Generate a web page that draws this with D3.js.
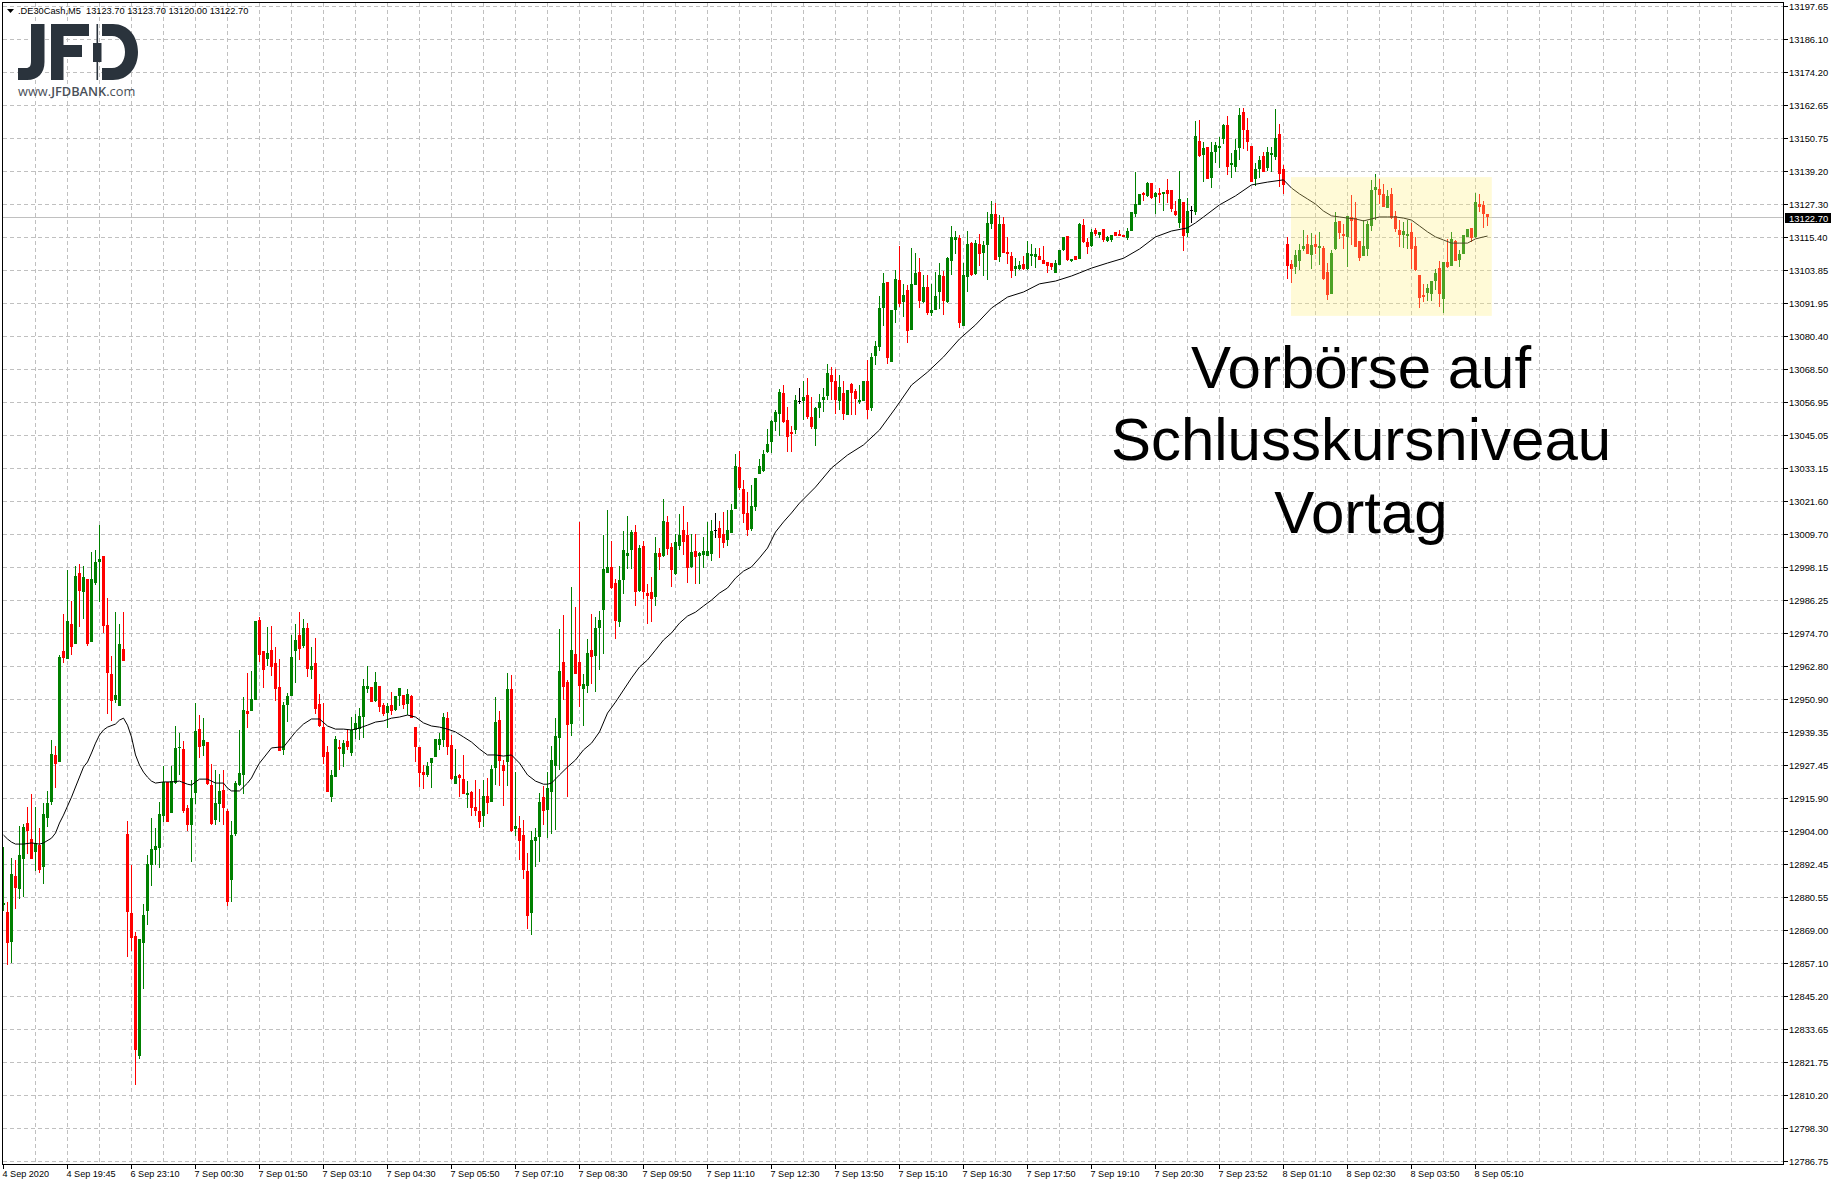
<!DOCTYPE html>
<html>
<head>
<meta charset="utf-8">
<script src="https://cdn.jsdelivr.net/npm/d3@7"></script>
<style>
html,body{margin:0;padding:0;background:#fff;overflow:hidden}
svg{display:block}
text{font-family:"Liberation Sans",Arial,sans-serif}
</style>
</head>
<body>
<div id="chart"></div>
<script>
const priceTicks=["13197.65","13186.10","13174.20","13162.65","13150.75","13139.20","13127.30","13115.40","13103.85","13091.95","13080.40","13068.50","13056.95","13045.05","13033.15","13021.60","13009.70","12998.15","12986.25","12974.70","12962.80","12950.90","12939.35","12927.45","12915.90","12904.00","12892.45","12880.55","12869.00","12857.10","12845.20","12833.65","12821.75","12810.20","12798.30","12786.75"];
const timeTicks=["4 Sep 2020","4 Sep 19:45","6 Sep 23:10","7 Sep 00:30","7 Sep 01:50","7 Sep 03:10","7 Sep 04:30","7 Sep 05:50","7 Sep 07:10","7 Sep 08:30","7 Sep 09:50","7 Sep 11:10","7 Sep 12:30","7 Sep 13:50","7 Sep 15:10","7 Sep 16:30","7 Sep 17:50","7 Sep 19:10","7 Sep 20:30","7 Sep 23:52","8 Sep 01:10","8 Sep 02:30","8 Sep 03:50","8 Sep 05:10"];
const headerText=".DE30Cash,M5  13123.70 13123.70 13120.00 13122.70";
const lastPrice=13122.70;
const noteLines=["Vorbörse auf","Schlusskursniveau","Vortag"];
const highlightBars=[322,372.2];
const highlightPrices=[13136.8,13087.4];

const open=[
12877.8,12875.3,12864.6,12888.1,12883.5,12894.2,12907.0,12901.3,12896.7,12899.1,
12891.3,12908.8,12914.5,12931.2,12928.7,12968.2,12965.3,12977.8,12970.7,12995.9,
12989.2,12993.8,12971.4,12992.4,13000.0,13002.0,12977.4,12960.0,12950.7,12948.6,
12968.9,12903.1,12874.9,12866.8,12824.0,12864.3,12875.7,12892.0,12897.4,12898.1,
12909.5,12921.6,12910.5,12921.2,12933.7,12933.3,12912.3,12906.3,12917.6,12940.4,
12934.4,12935.8,12920.5,12908.0,12913.7,12918.7,12911.2,12886.7,12903.1,12920.5,
12924.1,12946.8,12946.8,12950.7,12979.2,12968.2,12965.3,12968.5,12963.9,12955.4,
12933.0,12949.0,12952.2,12968.2,12973.9,12970.0,12976.4,12961.4,12963.9,12949.3,
12941.1,12932.2,12916.2,12923.3,12934.0,12931.5,12936.1,12931.9,12940.1,12940.4,
12944.7,12954.7,12955.4,12950.4,12955.7,12949.0,12946.1,12949.0,12947.2,12952.2,
12952.5,12949.3,12952.2,12941.1,12934.0,12925.1,12924.1,12928.3,12930.5,12934.7,
12936.5,12944.3,12934.7,12920.8,12924.1,12922.6,12917.0,12918.0,12912.7,12911.2,
12909.5,12916.6,12914.5,12926.5,12943.6,12927.6,12928.7,12954.7,12904.8,12905.2,
12902.7,12889.9,12874.9,12900.6,12902.0,12916.2,12911.6,12918.0,12927.3,12937.2,
12964.3,12957.1,12942.2,12967.1,12964.3,12954.7,12955.7,12968.5,12966.4,12976.4,
12982.8,12995.9,12998.1,12992.4,12978.5,12993.4,13002.0,13004.1,13010.5,12989.5,
13005.5,12988.8,12989.2,12987.4,13003.0,13002.0,13014.1,13005.2,12995.6,13005.5,
13011.2,13009.4,12998.1,13003.8,13002.0,13002.3,13002.0,13002.7,13011.2,13011.9,
13009.8,13007.7,13010.2,13018.7,13033.6,13025.8,13017.3,13011.6,13019.4,13031.1,
13032.2,13039.0,13042.5,13049.6,13052.5,13060.0,13050.4,13046.1,13046.8,13057.1,
13057.1,13059.3,13051.4,13047.2,13054.6,13057.5,13058.9,13066.4,13064.2,13057.1,
13060.0,13052.1,13063.2,13060.7,13056.8,13057.1,13064.2,13054.6,13073.1,13076.3,
13090.2,13099.5,13071.0,13089.5,13100.2,13092.3,13096.6,13082.4,13098.4,13103.0,
13092.3,13097.7,13088.4,13089.5,13095.9,13101.6,13092.3,13106.9,13114.4,13115.1,
13083.8,13101.2,13113.3,13102.3,13113.0,13109.8,13112.6,13120.1,13123.7,13108.4,
13120.1,13110.1,13108.7,13104.1,13104.1,13105.9,13104.1,13108.7,13108.4,13108.7,
13107.3,13106.6,13106.2,13102.7,13105.5,13110.9,13115.8,13106.9,13108.7,13107.6,
13119.7,13113.7,13112.3,13118.0,13116.2,13118.3,13114.0,13114.4,13117.3,13116.5,
13116.2,13115.1,13117.6,13123.7,13126.9,13131.1,13130.1,13134.7,13129.7,13131.1,
13130.8,13132.2,13132.2,13124.7,13120.5,13127.9,13116.9,13125.1,13124.4,13149.6,
13144.7,13147.5,13136.5,13145.7,13147.1,13150.3,13155.3,13141.1,13140.4,13147.1,
13159.9,13153.5,13147.9,13136.1,13139.7,13144.3,13140.0,13144.7,13143.9,13152.1,
13139.7,13113.0,13105.9,13104.8,13106.9,13111.2,13113.0,13109.1,13113.0,13111.6,
13111.6,13103.0,13095.2,13111.2,13121.2,13116.5,13115.5,13122.6,13122.2,13114.0,
13108.7,13111.2,13119.4,13132.2,13132.6,13130.8,13125.8,13130.8,13123.0,13118.0,
13116.2,13115.8,13117.3,13112.3,13102.0,13094.8,13095.6,13095.2,13099.8,13104.4,
13093.4,13106.6,13105.2,13114.0,13107.3,13109.4,13115.5,13118.7,13115.5,13127.2,
13126.9,13123.7];
const high=[
12898.5,12878.9,12894.6,12893.8,12905.9,12906.6,12912.7,12917.3,12912.7,12905.2,
12914.1,12918.4,12936.5,12934.4,12966.8,12981.3,12997.0,12986.0,12998.4,12999.1,
12998.4,12993.8,13003.4,13004.1,13013.0,13002.0,12987.0,12966.4,12982.0,12977.8,
12982.0,12907.7,12892.0,12868.2,12865.7,12878.2,12895.6,12908.8,12905.2,12914.5,
12927.3,12921.6,12927.3,12941.5,12939.0,12936.1,12913.4,12922.3,12949.7,12945.4,
12944.3,12935.8,12928.0,12925.8,12924.4,12925.8,12912.0,12907.7,12921.9,12940.1,
12951.8,12960.3,12961.0,12978.8,12980.3,12968.2,12976.7,12977.1,12969.6,12965.3,
12950.0,12953.2,12973.9,12977.8,12982.0,12979.6,12978.1,12969.6,12972.8,12952.9,
12949.7,12934.4,12925.8,12937.9,12936.5,12936.5,12940.4,12944.7,12945.8,12947.9,
12958.2,12962.8,12955.4,12960.7,12955.7,12949.7,12949.7,12953.6,12952.2,12955.0,
12952.5,12954.7,12952.5,12941.1,12934.0,12927.6,12928.7,12930.1,12936.9,12939.0,
12946.1,12946.5,12938.3,12933.3,12924.4,12931.2,12921.9,12918.4,12922.3,12919.1,
12922.3,12923.0,12927.6,12951.8,12946.8,12929.4,12960.3,12959.6,12925.1,12909.5,
12908.0,12896.3,12904.1,12905.2,12917.6,12920.1,12925.1,12934.4,12944.3,12976.0,
12981.0,12957.9,12990.9,12983.8,13014.1,12960.0,12972.4,12981.3,12980.3,12982.4,
13009.4,13018.3,13007.3,12993.8,12998.4,13010.9,13016.2,13011.2,13013.0,13005.9,
13007.3,12992.0,12994.5,13008.7,13004.8,13022.3,13016.2,13006.6,13009.8,13016.9,
13019.8,13014.1,13009.8,13009.8,13003.4,13008.7,13014.1,13014.8,13017.3,13014.4,
13017.6,13018.3,13020.5,13038.3,13039.3,13029.0,13024.7,13027.2,13029.7,13036.5,
13039.7,13047.2,13050.4,13053.9,13061.4,13062.8,13055.0,13048.2,13059.3,13061.7,
13064.2,13065.3,13058.5,13055.0,13059.6,13061.7,13070.3,13069.2,13068.5,13066.4,
13064.2,13061.0,13063.5,13061.4,13062.8,13064.2,13071.7,13074.2,13078.5,13094.5,
13102.7,13099.5,13089.5,13103.7,13112.3,13098.8,13098.4,13111.6,13109.8,13108.0,
13102.0,13102.0,13098.8,13103.0,13106.2,13103.4,13108.4,13119.4,13117.6,13116.2,
13106.2,13117.6,13113.7,13114.4,13116.5,13114.0,13124.4,13128.3,13127.6,13123.3,
13122.6,13115.5,13110.1,13108.0,13106.9,13108.7,13114.0,13113.0,13111.6,13111.6,
13112.3,13106.6,13106.2,13107.3,13110.9,13115.5,13115.8,13107.6,13108.7,13120.5,
13121.9,13115.1,13118.3,13118.7,13117.3,13118.3,13115.8,13116.2,13117.3,13118.0,
13116.2,13118.7,13124.4,13138.6,13130.8,13131.5,13135.0,13134.7,13131.5,13132.9,
13131.5,13136.1,13132.2,13128.3,13139.0,13127.9,13129.4,13126.5,13156.8,13157.1,
13149.3,13147.5,13149.3,13149.3,13151.0,13155.7,13158.5,13145.4,13150.3,13161.4,
13161.4,13157.8,13147.9,13141.8,13144.3,13145.7,13147.5,13147.5,13161.0,13155.7,
13141.1,13115.5,13107.3,13110.9,13113.0,13118.0,13116.2,13116.9,13116.2,13117.3,
13112.3,13106.2,13110.9,13124.4,13121.2,13120.1,13123.0,13130.4,13127.9,13114.0,
13121.5,13121.2,13135.8,13137.9,13136.1,13134.3,13132.2,13132.9,13124.7,13121.5,
13120.8,13121.5,13120.5,13115.5,13102.0,13098.8,13098.8,13099.8,13104.1,13106.9,
13106.6,13114.8,13117.3,13114.4,13110.9,13116.2,13118.3,13118.7,13131.1,13130.8,
13128.3,13123.7];
const low=[
12875.7,12856.5,12857.2,12876.4,12879.9,12880.6,12895.9,12894.2,12889.9,12889.2,
12885.3,12905.6,12913.4,12919.4,12928.7,12963.9,12965.3,12966.8,12970.7,12976.7,
12979.6,12970.0,12971.4,12991.7,12985.6,12974.6,12945.8,12943.3,12949.7,12948.6,
12964.6,12859.3,12861.5,12813.8,12823.0,12847.9,12870.7,12884.6,12892.0,12891.0,
12907.3,12907.3,12910.5,12920.8,12924.1,12910.5,12904.1,12893.1,12913.7,12930.1,
12930.8,12920.5,12906.3,12906.3,12907.3,12906.3,12877.4,12878.9,12902.3,12920.1,
12917.3,12940.8,12946.8,12950.7,12964.3,12955.0,12962.8,12959.3,12950.4,12932.6,
12931.2,12942.9,12952.2,12956.8,12965.0,12969.2,12958.9,12958.2,12945.8,12941.1,
12928.0,12918.0,12914.5,12923.3,12925.8,12926.9,12933.0,12930.8,12936.9,12936.5,
12937.2,12953.2,12950.0,12950.0,12946.5,12945.0,12940.8,12945.4,12946.8,12948.6,
12947.5,12945.4,12944.3,12928.7,12919.8,12919.1,12923.3,12919.4,12930.5,12933.0,
12934.0,12931.2,12922.3,12920.8,12916.2,12917.3,12912.3,12909.5,12909.5,12905.2,
12905.6,12910.2,12914.5,12920.5,12920.1,12913.0,12920.1,12903.8,12902.3,12893.8,
12887.0,12869.3,12867.1,12891.3,12893.1,12906.3,12901.6,12903.0,12904.5,12925.8,
12950.7,12916.2,12937.9,12960.0,12948.2,12941.5,12953.2,12956.4,12953.6,12961.4,
12967.1,12995.9,12990.2,12972.4,12976.7,12988.5,12997.3,12997.3,12984.2,12989.2,
12986.7,12977.8,12978.5,12984.2,12997.0,13001.6,13002.3,12991.0,12995.2,13004.1,
13002.3,12992.4,12997.7,12992.0,12992.0,12997.7,13002.0,13000.2,13008.4,13001.3,
13004.8,13005.5,13010.2,13018.7,13025.5,13013.7,13009.1,13010.9,13018.0,13031.1,
13031.9,13038.6,13038.6,13046.4,13044.7,13049.3,13039.0,13039.0,13045.4,13056.1,
13050.4,13050.7,13047.2,13041.1,13051.1,13053.2,13057.5,13057.5,13052.5,13053.9,
13050.4,13052.1,13052.1,13052.1,13056.1,13057.1,13050.7,13053.6,13069.9,13074.9,
13083.8,13070.3,13071.0,13084.9,13090.6,13087.0,13077.8,13082.4,13098.4,13090.2,
13092.0,13087.7,13087.4,13089.5,13089.9,13087.7,13092.0,13102.0,13109.4,13083.1,
13083.8,13095.9,13101.6,13102.0,13105.2,13101.6,13100.2,13118.3,13107.3,13106.6,
13109.8,13105.9,13100.9,13101.6,13103.7,13103.7,13103.7,13105.2,13104.4,13107.3,
13105.9,13102.7,13103.7,13102.7,13105.5,13110.5,13106.9,13106.6,13107.3,13107.6,
13113.3,13109.4,13111.9,13115.8,13115.1,13113.7,13113.7,13113.7,13115.8,13115.8,
13115.5,13114.4,13117.6,13122.6,13126.9,13128.3,13129.7,13129.0,13123.7,13127.6,
13124.7,13127.6,13124.4,13123.0,13118.7,13110.5,13115.5,13120.5,13123.3,13143.9,
13135.0,13136.1,13132.9,13141.8,13140.0,13148.6,13137.5,13136.5,13138.6,13142.9,
13146.8,13146.1,13135.0,13133.6,13136.5,13138.6,13139.0,13138.6,13142.9,13133.3,
13130.8,13100.5,13099.1,13102.3,13103.7,13110.5,13109.4,13104.1,13109.4,13105.5,
13100.2,13093.1,13095.2,13110.9,13114.8,13111.2,13104.8,13112.6,13111.9,13106.9,
13108.7,13108.7,13117.6,13121.5,13127.2,13126.1,13125.8,13121.9,13117.3,13111.9,
13111.6,13111.2,13104.1,13103.4,13090.2,13092.3,13092.7,13092.7,13096.6,13090.6,
13088.4,13104.4,13105.2,13106.9,13104.8,13109.4,13115.5,13113.7,13115.1,13124.4,
13118.7,13119.4];
const close=[
12878.5,12864.3,12888.8,12883.8,12895.6,12905.6,12904.1,12894.2,12899.9,12890.3,
12910.2,12914.1,12931.5,12928.0,12966.0,12965.7,12978.8,12969.6,12994.9,12989.5,
12994.5,12970.7,12993.8,13000.0,13000.9,12977.1,12960.3,12950.4,12952.5,12970.7,
12964.6,12875.3,12866.1,12826.2,12865.7,12874.2,12892.4,12897.7,12898.8,12910.2,
12921.6,12907.3,12921.9,12933.7,12934.0,12911.2,12906.3,12915.9,12939.7,12934.0,
12936.5,12920.8,12906.6,12914.1,12918.4,12912.3,12878.9,12902.7,12921.2,12924.8,
12947.2,12945.8,12951.1,12978.8,12966.8,12961.4,12967.5,12962.5,12954.7,12932.6,
12949.0,12952.2,12966.0,12972.1,12968.9,12976.4,12961.8,12962.8,12947.5,12941.5,
12930.5,12918.0,12924.1,12936.9,12933.3,12935.4,12934.0,12940.1,12942.6,12945.0,
12955.7,12955.7,12950.0,12957.1,12948.2,12945.8,12948.6,12946.8,12952.2,12955.0,
12949.0,12952.9,12944.3,12934.0,12924.8,12924.1,12927.3,12930.1,12936.9,12936.9,
12944.7,12934.0,12922.6,12923.7,12923.0,12917.3,12917.6,12912.3,12911.2,12907.3,
12916.6,12914.1,12926.2,12942.9,12929.0,12925.5,12954.7,12904.1,12905.9,12900.6,
12890.3,12873.9,12900.9,12902.0,12914.5,12911.2,12919.4,12929.4,12937.9,12961.0,
12955.4,12941.8,12968.5,12960.0,12955.7,12956.4,12967.5,12966.0,12976.4,12979.2,
12997.3,12998.1,12990.6,12978.8,12993.4,13004.1,13003.0,13010.5,12989.2,13004.8,
12989.2,12987.7,12986.7,13003.0,13001.6,13014.4,13004.5,12997.0,13006.9,13009.4,
13006.9,12997.7,13003.4,13001.6,13003.0,13003.8,13003.8,13010.9,13011.2,13008.4,
13006.6,13011.2,13018.3,13034.0,13026.2,13016.9,13011.2,13019.8,13029.7,13034.0,
13038.3,13041.8,13050.0,13053.2,13060.3,13049.6,13044.3,13045.4,13057.5,13057.1,
13058.5,13051.4,13047.9,13054.6,13056.8,13058.5,13067.1,13063.9,13057.5,13062.1,
13052.5,13061.0,13060.0,13057.8,13057.5,13064.2,13053.9,13072.8,13076.7,13090.2,
13099.1,13072.4,13089.5,13100.5,13091.6,13094.8,13082.0,13098.8,13102.7,13092.7,
13097.7,13088.4,13089.5,13094.5,13102.0,13092.7,13108.0,13115.5,13115.5,13084.9,
13102.0,13113.0,13102.0,13113.3,13109.4,13112.6,13120.5,13123.7,13107.3,13120.1,
13109.8,13109.4,13103.4,13105.2,13105.5,13104.1,13109.8,13109.4,13109.4,13107.3,
13105.9,13105.2,13104.8,13106.2,13110.9,13115.5,13107.3,13107.6,13107.3,13120.1,
13113.7,13111.9,13117.3,13116.5,13117.3,13114.4,13115.5,13116.2,13115.8,13115.8,
13115.5,13117.6,13124.4,13127.2,13130.8,13130.4,13134.7,13129.4,13131.1,13130.4,
13131.5,13130.8,13125.4,13123.3,13129.0,13115.8,13124.7,13125.1,13151.4,13144.3,
13147.1,13136.1,13145.7,13148.2,13147.9,13155.3,13140.4,13141.8,13146.4,13158.9,
13153.5,13149.3,13135.0,13139.7,13142.9,13138.6,13145.7,13145.4,13150.7,13137.9,
13134.0,13105.2,13104.1,13109.1,13110.9,13112.3,13109.4,13112.6,13111.9,13112.3,
13100.5,13094.8,13109.8,13120.8,13116.9,13115.8,13123.0,13121.2,13111.9,13108.0,
13112.3,13120.1,13132.2,13133.3,13130.4,13126.1,13130.1,13122.2,13118.3,13116.2,
13117.6,13116.5,13111.2,13103.7,13093.8,13094.1,13097.3,13099.8,13102.7,13095.2,
13106.6,13104.8,13114.8,13106.9,13109.4,13116.2,13118.3,13115.1,13127.9,13126.1,
13123.7,13122.7];

const maBars=[0,1,2,3,5,7,9,10,12,13,14,15,16,17,18,20,21,22,23,24,25,26,28,29,30,31,32,33,34,35,36,37,38,40,42,44,46,47,48,49,51,53,55,56,57,59,60,61,62,63,64,65,66,67,69,70,71,72,73,75,77,79,81,83,85,87,89,91,93,95,97,99,101,103,105,107,109,111,113,115,117,119,121,123,125,127,129,131,133,135,136,137,139,141,143,145,147,149,151,153,155,157,159,161,163,165,167,169,171,173,175,177,179,181,183,185,187,189,191,193,195,197,199,203,207,211,215,219,223,227,231,235,239,243,247,251,255,259,263,267,269,272,276,280,284,288,292,296,298,300,304,308,312,316,320,322,324,326,328,330,332,334,336,338,340,342,344,346,348,350,352,354,356,358,360,362,364,366,368,370,371];
const maValues=[12902.7,12901.3,12900.2,12899.5,12899.5,12899.9,12899.5,12899.9,12901.6,12903.4,12907.0,12909.8,12913.0,12916.2,12919.8,12926.9,12928.7,12931.9,12935.4,12938.3,12940.1,12941.1,12942.2,12943.6,12944.3,12941.8,12937.6,12931.2,12927.6,12925.1,12923.3,12921.9,12921.2,12921.6,12921.6,12921.9,12920.8,12920.5,12921.6,12922.6,12922.6,12921.2,12921.2,12919.4,12918.4,12918.4,12919.8,12921.2,12923.0,12925.8,12928.3,12930.1,12931.9,12933.7,12934.0,12934.0,12935.8,12937.6,12939.4,12942.2,12944.0,12944.0,12941.5,12940.4,12940.4,12940.1,12940.8,12941.8,12942.9,12943.3,12944.3,12944.7,12945.4,12944.7,12942.6,12941.5,12941.1,12940.4,12939.4,12937.6,12935.8,12933.3,12931.2,12931.2,12930.8,12931.2,12928.3,12924.1,12921.9,12920.8,12920.8,12921.2,12924.1,12926.9,12929.4,12933.0,12935.4,12939.4,12946.1,12950.0,12954.3,12958.6,12962.5,12965.0,12968.5,12972.1,12974.6,12978.1,12980.6,12982.0,12984.2,12986.3,12988.8,12990.6,12994.1,12996.6,12998.1,13001.3,13004.8,13010.5,13014.1,13017.3,13020.8,13026.5,13033.3,13037.9,13041.5,13046.8,13054.6,13062.8,13067.4,13072.8,13079.2,13084.2,13090.2,13094.1,13095.9,13098.8,13099.8,13101.6,13102.7,13104.4,13106.2,13107.9,13111.2,13115.5,13117.6,13118.7,13120.5,13122.6,13126.9,13130.1,13134.0,13135.0,13135.8,13132.9,13130.8,13129.0,13127.2,13124.7,13123.0,13122.6,13122.2,13121.9,13121.2,13121.9,13122.6,13122.6,13122.6,13122.2,13121.5,13119.4,13117.3,13115.5,13114.4,13113.3,13113.3,13113.3,13114.8,13115.5,13115.8];

const W=1834,H=1185;
const frame={l:2.5,t:2.5,r:1783.5,b:1164.5};
const barX0=3,barStep=4,gridEvery=8,labelEvery=16;

const svg=d3.select("#chart").append("svg").attr("width",W).attr("height",H);
svg.append("rect").attr("width",W).attr("height",H).attr("fill","#fff");

const x=d3.scaleLinear().domain([0,1]).range([barX0,barX0+barStep]);
const y=d3.scaleLinear().domain([12786.75,13197.65]).range([1161,6]);
const yTick=d3.scalePoint().domain(priceTicks).range([6,1161]);

const gridBars=d3.range(gridEvery,440,gridEvery).filter(b=>x(b)<frame.r);
const grid=svg.append("g").attr("stroke","#c0c0c0").attr("stroke-width",1).attr("stroke-dasharray","4,3").attr("shape-rendering","crispEdges");
grid.selectAll(".v").data(gridBars).join("line").attr("x1",b=>Math.round(x(b))+.5).attr("x2",b=>Math.round(x(b))+.5).attr("y1",frame.t).attr("y2",frame.b);
grid.selectAll(".h").data(priceTicks).join("line").attr("x1",frame.l).attr("x2",frame.r).attr("y1",d=>yTick(d)+.5).attr("y2",d=>yTick(d)+.5);

svg.append("line").attr("x1",frame.l).attr("x2",frame.r).attr("y1",Math.round(y(lastPrice))+.5).attr("y2",Math.round(y(lastPrice))+.5).attr("stroke","#c0c0c0").attr("shape-rendering","crispEdges");

const bars=d3.range(open.length).map(i=>({i,o:open[i],h:high[i],l:low[i],c:close[i]}));
const colour=d=>d.c>d.o?"#008000":d.c<d.o?"#ff0000":"#000";
const cg=svg.append("g").attr("shape-rendering","crispEdges");
cg.selectAll(".w").data(bars).join("rect")
  .attr("x",d=>Math.round(x(d.i)))
  .attr("width",1)
  .attr("y",d=>Math.round(y(d.h)))
  .attr("height",d=>Math.max(1,Math.round(y(d.l))-Math.round(y(d.h))))
  .attr("fill",colour);
cg.selectAll(".b").data(bars).join("rect")
  .attr("x",d=>Math.round(x(d.i))-1)
  .attr("width",3)
  .attr("y",d=>Math.round(y(Math.max(d.o,d.c))))
  .attr("height",d=>Math.max(1,Math.round(y(Math.min(d.o,d.c)))-Math.round(y(Math.max(d.o,d.c)))))
  .attr("fill",colour);

const maLine=d3.line().x((d,k)=>x(maBars[k])+.5).y(d=>y(d));
svg.append("path").datum(maValues).attr("d",maLine).attr("fill","none").attr("stroke","#000").attr("stroke-width",1);

svg.append("rect")
  .attr("x",x(highlightBars[0]))
  .attr("width",x(highlightBars[1])-x(highlightBars[0]))
  .attr("y",y(highlightPrices[0]))
  .attr("height",y(highlightPrices[1])-y(highlightPrices[0]))
  .attr("fill","rgb(255,238,121)").attr("fill-opacity",.3);

// frame
svg.append("rect").attr("x",frame.l).attr("y",frame.t).attr("width",frame.r-frame.l).attr("height",frame.b-frame.t)
  .attr("fill","none").attr("stroke","#000").attr("shape-rendering","crispEdges");

// price axis
const pa=svg.append("g");
pa.selectAll("line").data(priceTicks).join("line").attr("x1",frame.r).attr("x2",frame.r+4).attr("y1",d=>yTick(d)+.5).attr("y2",d=>yTick(d)+.5).attr("stroke","#000").attr("shape-rendering","crispEdges");
pa.selectAll("text").data(priceTicks).join("text").attr("x",1789).attr("y",d=>yTick(d)+3.5).attr("font-size",9.4).attr("fill","#000").text(d=>d);

// last price tag
const tagY=Math.round(y(lastPrice));
svg.append("rect").attr("x",1785).attr("y",tagY-4).attr("width",46).attr("height",10).attr("fill","#000");
svg.append("text").attr("x",1789).attr("y",tagY+4.5).attr("font-size",9.4).attr("fill","#fff").text(lastPrice.toFixed(2));

// time axis
const ta=svg.append("g");
ta.selectAll("line").data(timeTicks).join("line").attr("x1",(d,k)=>x(k*labelEvery)+.5).attr("x2",(d,k)=>x(k*labelEvery)+.5).attr("y1",frame.b).attr("y2",frame.b+4).attr("stroke","#000").attr("shape-rendering","crispEdges");
ta.selectAll("text").data(timeTicks).join("text").attr("x",(d,k)=>x(k*labelEvery)-.5).attr("y",1177).attr("font-size",9.1).attr("fill","#000").text(d=>d);

// header
svg.append("path").attr("d",d3.line()([[7,9],[14,9],[10.5,13]])+"Z").attr("fill","#000");
svg.append("text").attr("x",18).attr("y",14).attr("font-size",9.27).attr("fill","#000").style("white-space","pre").text(headerText);

// logo
const logo=svg.append("g").attr("fill","#2a333c");
logo.append("path").attr("d","M31 24H44.5V62C44.5 73 38 80 27 80H18V68H26C29.5 68 31 66 31 61Z");
logo.append("path").attr("d","M51 24H89V36H63.5V45H82V57H63.5V80H51Z");
logo.append("rect").attr("x",96.5).attr("y",24).attr("width",1.6).attr("height",56);
logo.append("rect").attr("x",93).attr("y",43).attr("width",8.5).attr("height",19);
logo.append("path").attr("d","M102 24H113C128 24 138 36 138 52C138 68 128 80 113 80H102V68H112C120 68 125 61 125 52C125 43 120 36 112 36H102Z");
const lt=svg.append("text").attr("x",18).attr("y",95.5).attr("font-size",12.8).attr("fill","#4a5058").style("font-family","'Open Sans'");
lt.append("tspan").text("www.");
lt.append("tspan").attr("font-weight",600).text("JFDBANK");
lt.append("tspan").text(".com");

// annotation
svg.append("g").selectAll("text").data(noteLines).join("text")
  .attr("x",1361).attr("y",(d,k)=>388+k*72.3).attr("text-anchor","middle")
  .attr("font-size",60).attr("fill","#000").text(d=>d);
</script>
</body>
</html>
